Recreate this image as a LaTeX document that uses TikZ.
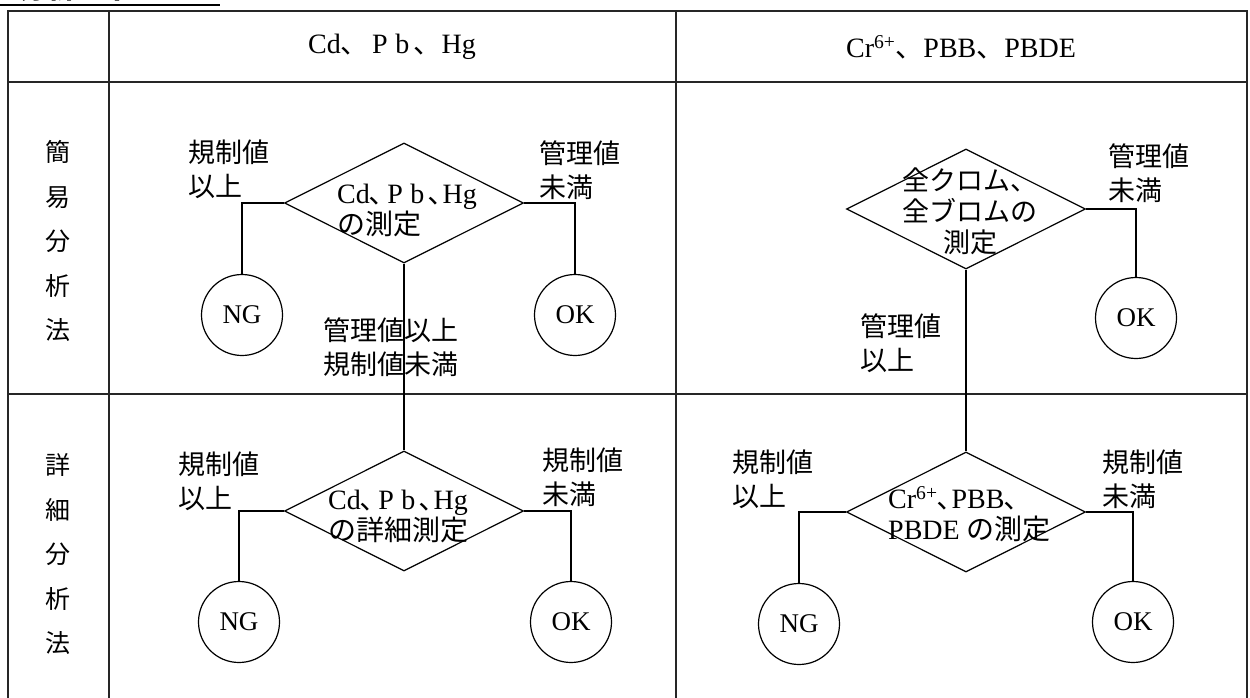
\documentclass[tikz,border=0pt]{standalone}
\usepackage{fontspec}
\setmainfont{Liberation Serif}
\newfontfamily\jp{Noto Sans CJK JP}
\usetikzlibrary{shapes.geometric}
\newcommand{\tenw}{{\jp 、}}
\newcommand{\tenn}{{\jp ､}}
\newcommand{\fw}[1]{\makebox[0.8em]{#1}}

\begin{document}
\begin{tikzpicture}[x=1pt,y=1pt,yscale=-1,
    tblline/.style={line width=1.7, color=black!85},
    flow/.style={line width=1.2},
    decide/.style={draw, flow, diamond, minimum width=239, minimum height=120, inner sep=0},
    endpt/.style={draw, flow, circle, minimum size=81, inner sep=0, font=\fontsize{27}{30}\selectfont},
    cond/.style={anchor=north west, align=left, inner sep=0, font=\jp\fontsize{27}{34}\selectfont},
    dtext/.style={anchor=north west, align=left, inner sep=0, font=\fontsize{28}{31}\selectfont},
    hdr/.style={inner sep=0, font=\fontsize{28}{32}\selectfont},
    rowlbl/.style={align=center, inner sep=0, font=\jp\fontsize{25}{44.5}\selectfont}]
    \useasboundingbox (0,0) rectangle (1250,698);
    \clip (0,0) rectangle (1250,698);

    %Title (cut off at top)
    \node [anchor=base west, inner sep=0, font=\jp\bfseries\fontsize{28}{28}\selectfont] (title) at (19,-1) {分析基本フロー};
    \draw [line width=2] (title.base west) ++(-19,6) coordinate (ul) -- ++(220,0) ;

    %Table
    \draw [tblline] (8,720) -- (8,11) -- (1247,11) -- (1247,720) ;
    \draw [tblline] (8,82) -- (1247,82) ;
    \draw [tblline] (8,394) -- (1247,394) ;
    \draw [tblline] (109,11) -- (109,720) ;
    \draw [tblline] (676,11) -- (676,720) ;

    %Headers
    \node [hdr] (hcd) at (392,47) {Cd\tenw\fw{P}\fw{b}\tenw Hg};
    \node [hdr] (hcr) at (961,47) {Cr\textsuperscript{6+}\tenw PBB\tenw PBDE};
    \node [rowlbl] (rsimple) at (58,241) {簡\\易\\分\\析\\法};
    \node [rowlbl] (rdetail) at (58,554) {詳\\細\\分\\析\\法};

    %Shape: Diamond
    \node [decide] (cdscr) at (404,203) {};
    \node [decide] (crscr) at (966,209) {};
    \node [decide] (cddet) at (404,511) {};
    \node [decide] (crdet) at (966,512) {};
    \node [dtext] (cdscrt) at (337,184) {Cd\tenn\fw{P}\fw{b}\tenn Hg\\{\jp の測定}};
    \node [dtext, font=\jp\fontsize{27}{31}\selectfont, align=center, anchor=north] (crscrt) at (970,168) {全クロム、\\全ブロムの\\測定};
    \node [dtext] (cddett) at (328,490) {Cd\tenn\fw{P}\fw{b}\tenn Hg\\{\jp の詳細測定}};
    \node [dtext] (crdett) at (888,486) {Cr\textsuperscript{6+}\tenn PBB\tenn\\PBDE {\jp の測定}};

    %Shape: Circle
    \node [endpt] (ngcdscr) at (242,315) {NG};
    \node [endpt] (okcdscr) at (575,315) {OK};
    \node [endpt] (okcrscr) at (1136,318) {OK};
    \node [endpt] (ngcddet) at (239,622) {NG};
    \node [endpt] (okcddet) at (571,622) {OK};
    \node [endpt] (ngcrdet) at (799,624) {NG};
    \node [endpt] (okcrdet) at (1133,622) {OK};

    %Straight Lines
    \draw [flow] (cdscr.west) -| (ngcdscr.north) ;
    \draw [flow] (cdscr.east) -| (okcdscr.north) ;
    \draw [flow] (cdscr.south) -- (cddet.north) ;
    \draw [flow] (crscr.east) -| (okcrscr.north) ;
    \draw [flow] (crscr.south) -- (crdet.north) ;
    \draw [flow] (cddet.west) -| (ngcddet.north) ;
    \draw [flow] (cddet.east) -| (okcddet.north) ;
    \draw [flow] (crdet.west) -| (ngcrdet.north) ;
    \draw [flow] (crdet.east) -| (okcrdet.north) ;

    %Labels
    \node [cond] (lcdng) at (188,140) {規制値\\以上};
    \node [cond] (lcdok) at (539,140) {管理値\\未満};
    \node [cond] (lcdmid) at (323,317) {管理値以上\\規制値未満};
    \node [cond] (lcrok) at (1108,143) {管理値\\未満};
    \node [cond] (lcrmid) at (860,313) {管理値\\以上};
    \node [cond] (ldng) at (178,452) {規制値\\以上};
    \node [cond] (ldok) at (542,448) {規制値\\未満};
    \node [cond] (lrng) at (732,450) {規制値\\以上};
    \node [cond] (lrok) at (1102,450) {規制値\\未満};
\end{tikzpicture}
\end{document}
